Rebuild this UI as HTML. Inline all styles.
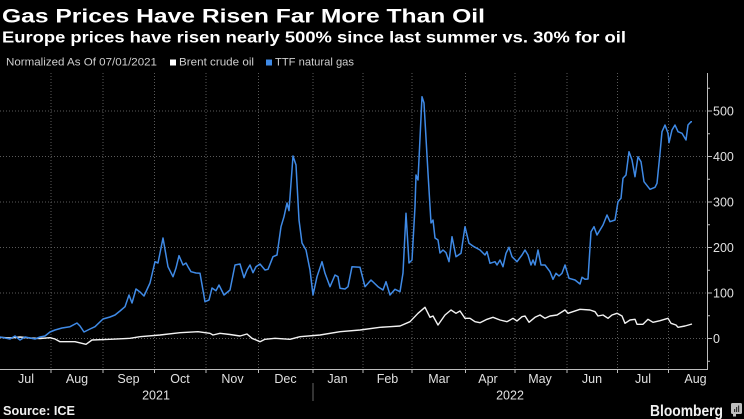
<!DOCTYPE html>
<html><head><meta charset="utf-8"><style>
html,body{margin:0;padding:0;background:#000;}
svg{display:block;}
</style></head><body>
<svg width="744" height="419" viewBox="0 0 744 419" xmlns="http://www.w3.org/2000/svg" font-family="'Liberation Sans', sans-serif">
<rect width="744" height="419" fill="#000"/>
<text x="2" y="22.5" font-size="19.5" font-weight="bold" fill="#fff" textLength="483" lengthAdjust="spacingAndGlyphs">Gas Prices Have Risen Far More Than Oil</text>
<text x="2" y="42.7" font-size="15.3" font-weight="bold" fill="#fff" textLength="624" lengthAdjust="spacingAndGlyphs">Europe prices have risen nearly 500% since last summer vs. 30% for oil</text>
<text x="6" y="65.5" font-size="11" fill="#cfcfcf" textLength="151" lengthAdjust="spacingAndGlyphs">Normalized As Of 07/01/2021</text>
<rect x="170" y="59.5" width="6" height="6" fill="#fff"/>
<text x="179" y="65.5" font-size="11" fill="#cfcfcf" textLength="75" lengthAdjust="spacingAndGlyphs">Brent crude oil</text>
<rect x="266" y="59.5" width="6" height="6" fill="#3f8ae6"/>
<text x="275" y="65.5" font-size="11" fill="#cfcfcf" textLength="79" lengthAdjust="spacingAndGlyphs">TTF natural gas</text>

<g stroke="#5a5a5a" stroke-width="1" stroke-dasharray="1,2">
<line x1="0" y1="111" x2="707" y2="111"/>
<line x1="0" y1="156.5" x2="707" y2="156.5"/>
<line x1="0" y1="202" x2="707" y2="202"/>
<line x1="0" y1="247.5" x2="707" y2="247.5"/>
<line x1="0" y1="293" x2="707" y2="293"/>
<line x1="0" y1="338.5" x2="707" y2="338.5"/>
<line x1="51" y1="73" x2="51" y2="369"/>
<line x1="103" y1="73" x2="103" y2="369"/>
<line x1="154.5" y1="73" x2="154.5" y2="369"/>
<line x1="206" y1="73" x2="206" y2="369"/>
<line x1="258.5" y1="73" x2="258.5" y2="369"/>
<line x1="313" y1="73" x2="313" y2="369"/>
<line x1="363" y1="73" x2="363" y2="369"/>
<line x1="412" y1="73" x2="412" y2="369"/>
<line x1="465.5" y1="73" x2="465.5" y2="369"/>
<line x1="515" y1="73" x2="515" y2="369"/>
<line x1="567" y1="73" x2="567" y2="369"/>
<line x1="617.5" y1="73" x2="617.5" y2="369"/>
<line x1="668.5" y1="73" x2="668.5" y2="369"/>
</g>

<g stroke="#bdbdbd" stroke-width="1">
<line x1="0" y1="369.5" x2="708" y2="369.5"/>
<line x1="707.5" y1="73" x2="707.5" y2="370"/>
<line x1="707" y1="111" x2="712" y2="111"/>
<line x1="707" y1="156.5" x2="712" y2="156.5"/>
<line x1="707" y1="202" x2="712" y2="202"/>
<line x1="707" y1="247.5" x2="712" y2="247.5"/>
<line x1="707" y1="293" x2="712" y2="293"/>
<line x1="707" y1="338.5" x2="712" y2="338.5"/>
<line x1="707" y1="88.25" x2="710" y2="88.25"/>
<line x1="707" y1="133.75" x2="710" y2="133.75"/>
<line x1="707" y1="179.25" x2="710" y2="179.25"/>
<line x1="707" y1="224.75" x2="710" y2="224.75"/>
<line x1="707" y1="270.25" x2="710" y2="270.25"/>
<line x1="707" y1="315.75" x2="710" y2="315.75"/>
<line x1="707" y1="361.25" x2="710" y2="361.25"/>
<line x1="51" y1="369.5" x2="51" y2="373"/>
<line x1="103" y1="369.5" x2="103" y2="373"/>
<line x1="154.5" y1="369.5" x2="154.5" y2="373"/>
<line x1="206" y1="369.5" x2="206" y2="373"/>
<line x1="258.5" y1="369.5" x2="258.5" y2="373"/>
<line x1="313" y1="369.5" x2="313" y2="373"/>
<line x1="363" y1="369.5" x2="363" y2="373"/>
<line x1="412" y1="369.5" x2="412" y2="373"/>
<line x1="465.5" y1="369.5" x2="465.5" y2="373"/>
<line x1="515" y1="369.5" x2="515" y2="373"/>
<line x1="567" y1="369.5" x2="567" y2="373"/>
<line x1="617.5" y1="369.5" x2="617.5" y2="373"/>
<line x1="668.5" y1="369.5" x2="668.5" y2="373"/>
</g>
<line x1="313" y1="383" x2="313" y2="401" stroke="#666" stroke-width="1"/>

<g font-size="12.5" fill="#e0e0e0">
<text x="713" y="115.5">500</text>
<text x="713" y="161">400</text>
<text x="713" y="206.5">300</text>
<text x="713" y="252">200</text>
<text x="713" y="297.5">100</text>
<text x="713" y="343">0</text>
</g>
<g font-size="12.5" fill="#e0e0e0" text-anchor="middle">
<text x="26" y="383">Jul</text>
<text x="77" y="383">Aug</text>
<text x="128.5" y="383">Sep</text>
<text x="180" y="383">Oct</text>
<text x="232.5" y="383">Nov</text>
<text x="285.5" y="383">Dec</text>
<text x="337.5" y="383">Jan</text>
<text x="387.5" y="383">Feb</text>
<text x="439" y="383">Mar</text>
<text x="488" y="383">Apr</text>
<text x="540" y="383">May</text>
<text x="592" y="383">Jun</text>
<text x="643" y="383">Jul</text>
<text x="695.5" y="383">Aug</text>
<text x="156" y="399.5">2021</text>
<text x="510" y="399.5">2022</text>
</g>

<polyline fill="none" stroke="#f2f2f2" stroke-width="1.4" stroke-linejoin="round" points="0,337.3 10,338 20,337 30,338 40,338.5 50,337.7 55,339 60,341.7 75,341.7 86,344.3 92,340 110,339.3 130,338.3 140,336.7 160,335 180,332.7 198,331.7 210,333.3 213,335 220,333.3 230,334.5 240,336 247,334 252,338.3 260,341.7 265,339.3 275,338.3 290,339.3 300,336.7 320,335 340,331.7 360,330 380,327.3 390,326.7 400,326 410,321.7 418,313.3 425,307.3 430,317.3 433,316 438,325 445,315 451,310 456,313.3 460,311 465,318.3 470,318.3 475,321.7 480,322.7 487,319.3 493,317.3 500,320 507,321.7 513,318.3 517,321 522,316.7 525,316 529,322.3 535,317.3 540,315 545,318.3 550,316 557,315 565,310 568,313.3 580,309.3 590,310 595,311.7 598,316 603,315 608,318.3 612,315 617,313.3 622,316 625,323.3 630,320 635,319.3 637,324.3 643,324.3 648,319.3 653,322.3 660,320.7 668,318.3 671,323.3 676,325 678,327.3 685,326 692,324"/>

<polyline fill="none" stroke="#3f8ae6" stroke-width="1.5" stroke-linejoin="round" points="0,337 5,338 10,339 15,336 20,340 25,337 30,338 35,339 40,337 45,336 50,332 55,330 62,328 70,326.7 77,323 80,326 84,332 90,329 95,326.7 103,319 110,317 115,315 120,311 125,306.7 129,295 132,303 136,289 140,292 144,296 150,283 155,261.7 158,263 163,238 168,266.7 173,276.7 176,268 179,255.7 183,265 186,263 188,266.7 191,271.7 196,273 200,273.3 205,301.7 209,300 212,288 216,290.7 219,285 224,295 230,290 235,265 240,264 244,277.7 247,270 250,265 253,272.7 256,266.7 260,264 265,270 268,269.3 273,256.7 277,255 281,226.7 284,216.7 287,203 289,210.7 293,156 296,165 299,220 302,243 306,250 310,270 313,295 317,276.7 322,261.7 325,273.3 330,286.7 335,275 338,276.7 340,288.3 345,289 348,286.7 352,266.7 360,267.3 365,286.7 371,280 378,286.7 383,290 386,281.7 390,295 395,289.3 400,291.7 403,273 406,213.3 409,263 412,260 415,206.7 416,175 418,180 422,96.7 424,103 428,173 431,223 433,220 435,238 438,240 440,253 443,250 446,252.7 449,261.7 452,236.7 456,256.7 461,253.3 465,226.7 469,243.3 474,246.7 480,250 485,255 487,251.7 490,263.3 495,261.7 497,265 500,260 503,266.7 506,253.3 509,247.3 512,256.7 517,261.7 522,255 525,250 528,255 531,265 533,260 535,265 538,250 541,265 545,265 550,271.7 553,279.3 556,273.3 559,276 562,273.3 565,265 569,278.3 575,280 580,284 582,277.3 585,279.3 588,279 591,231.7 594,226.7 597,235 600,230 603,225 607,215 610,221.7 615,220 618,201.7 621,198.3 623,178.3 626,175 629,151.7 632,160 635,176.7 638,156.7 641,161.7 644,181.7 650,189.3 655,187.3 657,183.3 660,153.3 662,131.7 665,125 668,133.3 669,142.7 672,130 675,125 678,131.7 682,133.3 686,140 688,125 691,121.7 692,121.7"/>

<text x="3" y="415" font-size="13" font-weight="bold" fill="#f0f0f0" textLength="72" lengthAdjust="spacingAndGlyphs">Source: ICE</text>
<text x="650" y="416" font-size="16" font-weight="bold" fill="#f0f0f0" textLength="73" lengthAdjust="spacingAndGlyphs">Bloomberg</text>
<rect x="731" y="403" width="11" height="11" rx="1.5" fill="#bdbdbd"/>
<rect x="734" y="409" width="1.2" height="3" fill="#333"/>
<rect x="736" y="407" width="1.2" height="5" fill="#333"/>
<rect x="738" y="405.5" width="1.2" height="6.5" fill="#333"/>
<rect x="733" y="414" width="3" height="2.5" fill="#bdbdbd"/>
</svg>
</body></html>
